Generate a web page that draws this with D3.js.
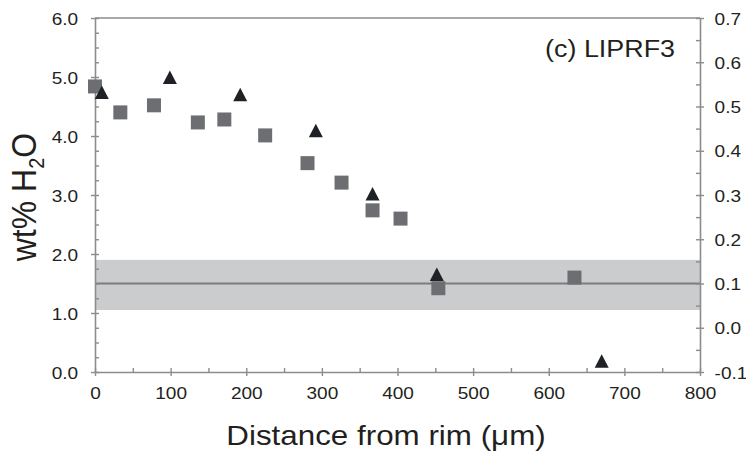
<!DOCTYPE html>
<html>
<head>
<meta charset="utf-8">
<script src="https://cdn.jsdelivr.net/npm/d3@7/dist/d3.min.js"></script>
<style>
  html, body { margin: 0; padding: 0; background: #fff; }
  svg { display: block; }
  text { font-family: "Liberation Sans", Arial, Helvetica, sans-serif; fill: #231f20; }
</style>
</head>
<body>
<svg id="chart" width="746" height="453"></svg>
<script>
// Glass water profile: squares on the left axis, triangles on the right axis
const squareDistance = [0, 33.5, 78, 136, 171, 225, 281, 326, 367, 404, 454, 634];
const squareWater    = [4.84, 4.40, 4.52, 4.23, 4.28, 4.01, 3.54, 3.21, 2.74, 2.60, 1.42, 1.60];

const triangleDistance = [9, 99, 192, 292, 367, 452, 670];
const triangleValue    = [0.532, 0.566, 0.527, 0.446, 0.303, 0.121, -0.075];

// Reference level and its uncertainty band (left-axis units)
const bandLow = 1.05, bandHigh = 1.9, refLevel = 1.5;

const xTicks = [0, 100, 200, 300, 400, 500, 600, 700, 800];
const xMinorTicks = d3.range(50, 800, 100);
const leftTicks = [0, 1, 2, 3, 4, 5, 6];
const leftMinorTicks = d3.range(0.25, 6, 0.25).filter(v => Math.abs(v - Math.round(v)) > 1e-6);
const rightTicks = [-0.1, 0, 0.1, 0.2, 0.3, 0.4, 0.5, 0.6, 0.7];
const rightMinorTicks = d3.range(-0.05, 0.7, 0.1);

const panelLabel = "(c) LIPRF3";
const xTitle = "Distance from rim (\u03bcm)";

const svg = d3.select("#chart");
const plotLeft = 95, plotRight = 700, plotTop = 18, plotBottom = 372;
const stretch = 1.12;   // the typeface is set slightly wide
const axisColor = "#8c8c8c";

const x = d3.scaleLinear().domain([0, 800]).range([plotLeft, plotRight]);
const yL = d3.scaleLinear().domain([0, 6]).range([plotBottom, plotTop]);
const yR = d3.scaleLinear().domain([-0.1, 0.7]).range([plotBottom, plotTop]);

// band and reference line
svg.append("rect")
  .attr("x", x(0)).attr("width", x(800) - x(0))
  .attr("y", yL(bandHigh)).attr("height", yL(bandLow) - yL(bandHigh))
  .attr("fill", "#cbcccd");
svg.append("line")
  .attr("x1", x(0)).attr("x2", x(800))
  .attr("y1", yL(refLevel)).attr("y2", yL(refLevel))
  .attr("stroke", "#7d7d7f").attr("stroke-width", 2);

// top frame line
svg.append("line")
  .attr("x1", plotLeft).attr("x2", plotRight).attr("y1", plotTop).attr("y2", plotTop)
  .attr("stroke", axisColor).attr("stroke-width", 1.6);

const fmt = d3.format(".1f");
const fmtR = v => fmt(v).replace("\u2212", "-");

function styleAxis(g) {
  g.select(".domain").attr("stroke", axisColor).attr("stroke-width", 1.6);
  g.selectAll(".tick line").attr("stroke", axisColor).attr("stroke-width", 1.4);
  g.selectAll(".tick text")
    .attr("font-size", 17)
    .attr("font-family", "Liberation Sans, Arial, sans-serif")
    .attr("fill", "#231f20")
    .attr("transform", `scale(${stretch},1)`);
}

// minor ticks (inside only)
svg.append("g").attr("transform", `translate(0,${plotBottom})`)
  .call(d3.axisBottom(x).tickValues(xMinorTicks).tickSize(-4).tickFormat(""))
  .call(g => { g.select(".domain").remove(); g.selectAll("line").attr("stroke", axisColor).attr("stroke-width", 1.4); });
svg.append("g").attr("transform", `translate(${plotLeft},0)`)
  .call(d3.axisLeft(yL).tickValues(leftMinorTicks).tickSize(-4).tickFormat(""))
  .call(g => { g.select(".domain").remove(); g.selectAll("line").attr("stroke", axisColor).attr("stroke-width", 1.4); });
svg.append("g").attr("transform", `translate(${plotRight},0)`)
  .call(d3.axisRight(yR).tickValues(rightMinorTicks).tickSize(-4).tickFormat(""))
  .call(g => { g.select(".domain").remove(); g.selectAll("line").attr("stroke", axisColor).attr("stroke-width", 1.4); });

// major axes, ticks crossing the axis line
svg.append("g").attr("transform", `translate(0,${plotBottom})`)
  .call(d3.axisBottom(x).tickValues(xTicks).tickSize(4).tickSizeOuter(0).tickPadding(11).tickFormat(d3.format("d")))
  .call(styleAxis)
  .call(g => g.selectAll(".tick line").attr("y1", -4));

svg.append("g").attr("transform", `translate(${plotLeft},0)`)
  .call(d3.axisLeft(yL).tickValues(leftTicks).tickSize(4).tickSizeOuter(0).tickPadding(11).tickFormat(fmt))
  .call(styleAxis)
  .call(g => g.selectAll(".tick line").attr("x1", 4))
  .call(g => g.selectAll(".tick text").attr("dy", "0.36em"));

svg.append("g").attr("transform", `translate(${plotRight},0)`)
  .call(d3.axisRight(yR).tickValues(rightTicks).tickSize(4).tickSizeOuter(0).tickPadding(9).tickFormat(fmtR))
  .call(styleAxis)
  .call(g => g.selectAll(".tick line").attr("x1", -4))
  .call(g => g.selectAll(".tick text").attr("dy", "0.36em"));

// markers
const sq = 14;
svg.append("g").selectAll("rect")
  .data(squareDistance.map((d, i) => [d, squareWater[i]]))
  .join("rect")
  .attr("x", d => x(d[0]) - sq / 2)
  .attr("y", d => yL(d[1]) - sq / 2)
  .attr("width", sq).attr("height", sq)
  .attr("fill", "#6d6e71");

const tw = 14, th = 13.5;
svg.append("g").selectAll("path")
  .data(triangleDistance.map((d, i) => [d, triangleValue[i]]))
  .join("path")
  .attr("d", d => {
    const cx = x(d[0]), cy = yR(d[1]);
    return `M${cx},${cy - th / 2}L${cx + tw / 2},${cy + th / 2}L${cx - tw / 2},${cy + th / 2}Z`;
  })
  .attr("fill", "#1e2125");

// panel label
svg.append("text")
  .attr("transform", `translate(675,57) scale(${stretch},1)`)
  .attr("text-anchor", "end")
  .attr("font-size", 24)
  .text(panelLabel);

// axis titles
svg.append("text")
  .attr("transform", `translate(386,445) scale(${stretch},1)`)
  .attr("text-anchor", "middle")
  .attr("font-size", 28)
  .text(xTitle);

const yt = svg.append("text")
  .attr("transform", `translate(36,197) scale(${stretch},1) rotate(-90)`)
  .attr("text-anchor", "middle")
  .attr("font-size", 32);
yt.append("tspan").text("wt% H");
yt.append("tspan").attr("font-size", 20).attr("dy", 7).text("2");
yt.append("tspan").attr("dy", -7).text("O");
</script>
</body>
</html>
